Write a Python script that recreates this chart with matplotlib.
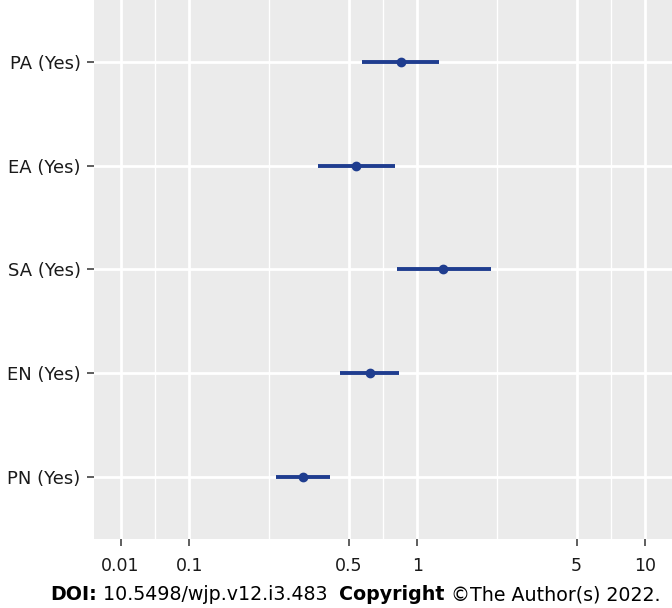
import numpy as np
import matplotlib
matplotlib.use("Agg")
import matplotlib.pyplot as plt

# forest plot data (odds ratio with CI), top to bottom
labels = ["PA (Yes)", "EA (Yes)", "SA (Yes)", "EN (Yes)", "PN (Yes)"]
est = [0.847, 0.540, 1.30, 0.618, 0.314]
lo = [0.575, 0.368, 0.814, 0.457, 0.239]
hi = [1.247, 0.798, 2.097, 0.833, 0.414]

# axis breaks as in the original figure (labels don't match break values there)
breaks = [0.05, 0.1, 0.5, 1, 5, 10]
break_labels = ["0.01", "0.1", "0.5", "1", "5", "10"]

COL = "#1f3d8f"

fig = plt.figure(figsize=(6.72, 6.08), dpi=100)
ax = fig.add_axes([0.1406, 1 - 539 / 608, 1 - 0.1406, 539 / 608])
ax.set_facecolor("#EBEBEB")
for s in ax.spines.values():
    s.set_visible(False)

ypos = np.arange(len(labels))[::-1] + 1
ax.set_xscale("log")
ax.set_xlim(0.0384, 13.1)
ax.set_ylim(0.4, len(labels) + 0.6)

ax.hlines(ypos, lo, hi, color=COL, lw=2.8, zorder=3)
ax.plot(est, ypos, "o", color=COL, ms=6, zorder=4)

ax.set_xticks(breaks)
ax.set_xticklabels(break_labels)
minor = [np.sqrt(breaks[i] * breaks[i + 1]) for i in range(len(breaks) - 1)]
ax.set_xticks(minor, minor=True)
ax.set_yticks(ypos)
ax.set_yticklabels(labels)

ax.grid(True, which="major", color="white", lw=2.0, zorder=1)
ax.grid(True, which="minor", axis="x", color="white", lw=1.0, zorder=1)
ax.set_axisbelow(True)
ax.tick_params(axis="both", which="major", length=5, width=1.1, color="#333333",
               labelcolor="#1a1a1a")
ax.tick_params(axis="y", labelsize=13, pad=5)
ax.tick_params(axis="x", labelsize=12.5, pad=8)
ax.tick_params(axis="x", which="minor", length=0)

# footer
fig.canvas.draw()
r = fig.canvas.get_renderer()
x = 50
y = 13
parts = [("DOI:", "bold"), (" 10.5498/wjp.v12.i3.483  ", "normal"),
         ("Copyright", "bold"), (" \u00a9The Author(s) 2022.", "normal")]
for txt, w in parts:
    t = fig.text(x / 672, y / 608, txt, fontsize=13.7, fontweight=w,
                 color="black", va="center", ha="left")
    bb = t.get_window_extent(renderer=r)
    x += bb.width

fig.savefig("out.png", dpi=100)
